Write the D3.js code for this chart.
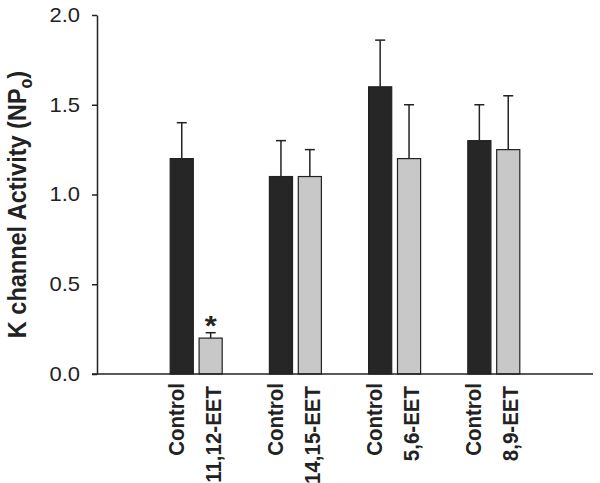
<!DOCTYPE html>
<html>
<head>
<meta charset="utf-8">
<script src="https://cdn.jsdelivr.net/npm/d3@7"></script>
<style>
  body { margin: 0; background: #fff; }
  text { font-family: "Liberation Sans", Arial, sans-serif; fill: #222; }
</style>
</head>
<body>
<svg id="chart" width="600" height="483"></svg>
<script>
const groups = ["11,12-EET", "14,15-EET", "5,6-EET", "8,9-EET"];
const controlMean = [1.20, 1.10, 1.60, 1.30];
const controlErr = [0.20, 0.20, 0.26, 0.20];
const eetMean = [0.20, 1.10, 1.20, 1.25];
const eetErr = [0.03, 0.15, 0.30, 0.30];
const significant = [true, false, false, false];
const yTicks = [0, 0.5, 1.0, 1.5, 2.0];

const width = 600;
const height = 483;
const plotLeft = 97, plotRight = 593, plotTop = 15, plotBottom = 374;
// the scanned figure is a little wider than tall, so text gets stretched sideways
const stretch = 1.1;

const svg = d3.select("#chart");

const x = d3.scalePoint()
  .domain(groups)
  .range([plotLeft, plotRight])
  .padding(1);

const sub = d3.scaleBand()
  .domain(["control", "eet"])
  .range([-26, 26])
  .paddingInner(0.2);

const y = d3.scaleLinear()
  .domain([0, 2])
  .range([plotBottom, plotTop]);

const bars = [];
groups.forEach((g, i) => {
  bars.push({ group: g, kind: "control", label: "Control", value: controlMean[i], err: controlErr[i] });
  bars.push({ group: g, kind: "eet", label: g, value: eetMean[i], err: eetErr[i], star: significant[i] });
});

const cx = d => x(d.group) + sub(d.kind) + sub.bandwidth() / 2;

// error bars (upper only)
const eb = svg.append("g")
  .attr("stroke", "#222")
  .attr("stroke-width", 1.5);

eb.selectAll("line.stem")
  .data(bars)
  .join("line")
    .attr("class", "stem")
    .attr("x1", cx)
    .attr("x2", cx)
    .attr("y1", d => y(d.value))
    .attr("y2", d => y(d.value + d.err));

eb.selectAll("line.cap")
  .data(bars)
  .join("line")
    .attr("class", "cap")
    .attr("x1", d => cx(d) - 5)
    .attr("x2", d => cx(d) + 5)
    .attr("y1", d => y(d.value + d.err))
    .attr("y2", d => y(d.value + d.err));

svg.append("g")
  .selectAll("rect")
  .data(bars)
  .join("rect")
    .attr("x", d => x(d.group) + sub(d.kind))
    .attr("y", d => y(d.value))
    .attr("width", sub.bandwidth())
    .attr("height", d => y(0) - y(d.value))
    .attr("fill", d => d.kind === "control" ? "#262626" : "#c8c8c8")
    .attr("stroke", "#222")
    .attr("stroke-width", 1.2);

// significance marker
svg.append("g")
  .selectAll("text")
  .data(bars.filter(d => d.star))
  .join("text")
    .attr("transform", d => `translate(${cx(d)},${y(d.value + d.err) + 2}) scale(${stretch},1)`)
    .attr("text-anchor", "middle")
    .attr("font-size", 28)
    .attr("font-weight", "bold")
    .text("*");

// y axis
const yAxis = svg.append("g")
  .attr("transform", `translate(${plotLeft},0)`)
  .call(d3.axisLeft(y).tickValues(yTicks).tickFormat(d3.format(".1f")).tickSize(5).tickSizeOuter(0));
yAxis.select(".domain").attr("stroke", "#222").attr("stroke-width", 1.5);
yAxis.selectAll(".tick line").attr("stroke", "#222").attr("stroke-width", 1.5);
yAxis.selectAll(".tick text")
  .attr("x", -17 / stretch)
  .attr("transform", `scale(${stretch},1)`)
  .attr("font-size", 20)
  .attr("font-family", "Liberation Sans, Arial, sans-serif")
  .attr("fill", "#222");

// x axis line
svg.append("line")
  .attr("x1", plotLeft - 5)
  .attr("x2", plotRight)
  .attr("y1", y(0))
  .attr("y2", y(0))
  .attr("stroke", "#222")
  .attr("stroke-width", 1.5);

// x labels
svg.append("g")
  .selectAll("text")
  .data(bars)
  .join("text")
    .attr("transform", d => `translate(${cx(d) + (d.kind === "control" ? -6 : 2)},${y(0) + (d.kind === "control" ? 9 : 12)}) scale(${stretch},1) rotate(-90)`)
    .attr("text-anchor", "end")
    .attr("dy", "0.35em")
    .attr("font-size", 20.5)
    .attr("font-weight", "bold")
    .text(d => d.label);

// y axis title
const title = svg.append("text")
  .attr("transform", `translate(26,${(plotTop + plotBottom) / 2 + 10}) scale(${stretch},1) rotate(-90)`)
  .attr("text-anchor", "middle")
  .attr("font-size", 23.5)
  .attr("font-weight", "bold");
title.append("tspan").text("K channel Activity (NP");
title.append("tspan").attr("font-size", 16).attr("dy", 5).text("o");
title.append("tspan").attr("dy", -5).text(")");
</script>
</body>
</html>
